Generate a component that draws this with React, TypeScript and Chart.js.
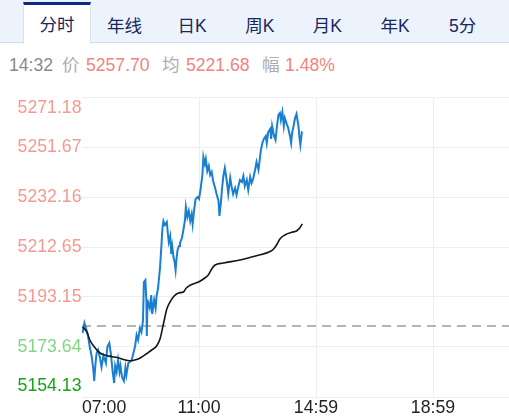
import React, { useEffect, useRef } from 'react';
import { Chart, registerables } from 'chart.js';

Chart.register(...registerables);

const TABS = ['分时', '年线', '日K', '周K', '月K', '年K', '5分'];
const INFO_TIME = '14:32';
const INFO_PRICE_LABEL = '价';
const INFO_PRICE = '5257.70';
const INFO_AVG_LABEL = '均';
const INFO_AVG = '5221.68';
const INFO_RANGE_LABEL = '幅';
const INFO_RANGE = '1.48%';

const Y_TICKS = [5154.13, 5173.64, 5193.15, 5212.65, 5232.16, 5251.67, 5271.18];
const X_TICKS = [0, 240, 480, 720, 960];
const X_LABELS = ['07:00', '11:00', '14:59', '18:59', ''];
const PREV_CLOSE = 5181.8;

// minutes since 07:00
const PRICE_MIN = [
  1, 5, 8, 12, 16, 20, 23, 25, 28, 30, 33, 37, 40, 44, 47, 49, 52, 56, 59, 63,
  66, 68, 71, 74, 77, 79, 82, 86, 89, 91, 95, 98, 102, 105, 109, 112, 115, 119, 122, 125,
  127, 130, 132, 133, 134, 136, 139, 142, 144, 148, 151, 153, 156, 160, 163, 165, 167, 170, 174, 176,
  178, 181, 183, 185, 188, 190, 192, 194, 196, 199, 201, 205, 208, 211, 213, 216, 219, 222, 225, 227,
  230, 233, 237, 240, 243, 247, 249, 252, 254, 257, 260, 263, 266, 269, 273, 276, 280, 282, 285, 287,
  290, 293, 297, 300, 304, 307, 310, 314, 317, 321, 324, 328, 331, 334, 338, 341, 345, 348, 351, 355,
  358, 362, 365, 367, 370, 373, 377, 379, 382, 386, 388, 390, 394, 397, 400, 403, 406, 408, 411, 414,
  416, 420, 423, 427, 429, 431, 434, 437, 440, 444, 446, 448, 451, 452,
];
const PRICE_VAL = [
  5179.10, 5183.00, 5181.05, 5178.32, 5173.64, 5169.74, 5165.44, 5160.37, 5167.78, 5171.30,
  5172.47, 5169.35, 5165.83, 5170.13, 5168.57, 5167.39, 5173.64, 5175.20, 5171.30, 5163.88,
  5159.59, 5166.22, 5163.88, 5168.57, 5163.88, 5166.22, 5161.93, 5160.37, 5165.44, 5162.71,
  5167.39, 5167.78, 5168.57, 5170.91, 5174.03, 5178.32, 5176.37, 5181.05, 5179.49, 5183.78,
  5199.00, 5199.78, 5191.98, 5177.93, 5188.07, 5190.80, 5188.85, 5193.93, 5186.51, 5191.98,
  5188.85, 5193.54, 5196.66, 5204.46, 5213.43, 5220.07, 5222.80, 5221.24, 5222.41, 5218.12,
  5214.61, 5216.95, 5209.92, 5213.04, 5208.36, 5206.80, 5203.68, 5208.36, 5211.48, 5213.04,
  5214.22, 5216.17, 5219.29, 5222.80, 5228.26, 5224.36, 5226.70, 5222.80, 5225.53, 5221.63,
  5227.09, 5231.38, 5232.16, 5231.38, 5234.89, 5240.75, 5247.77, 5245.04, 5246.99, 5242.31,
  5244.26, 5240.75, 5241.92, 5238.41, 5235.67, 5233.33, 5230.60, 5224.75, 5230.21, 5234.89,
  5240.36, 5243.48, 5238.41, 5233.33, 5239.58, 5236.06, 5233.33, 5235.67, 5232.94, 5236.45,
  5238.80, 5238.02, 5240.36, 5236.45, 5238.80, 5234.89, 5239.97, 5237.63, 5239.19, 5242.70,
  5245.82, 5242.70, 5247.38, 5250.50, 5253.23, 5254.79, 5255.96, 5253.23, 5257.52, 5258.69,
  5254.79, 5259.87, 5255.96, 5254.40, 5259.87, 5264.16, 5264.94, 5262.21, 5265.33, 5259.87,
  5262.99, 5260.65, 5259.08, 5255.57, 5253.23, 5257.13, 5259.87, 5262.99, 5264.55, 5259.87,
  5255.57, 5252.45, 5257.52, 5257.70,
];

const AVG_MIN = [
  1, 10, 16, 27, 37, 47, 60, 72, 85, 98, 112, 121, 133, 143, 153, 160, 167, 174, 181, 188,
  198, 208, 214, 225, 239, 252, 259, 266, 273, 290, 324, 358, 386, 393, 399, 406, 416, 430, 440, 447,
  452,
];
const AVG_VAL = [
  5181.44, 5179.49, 5176.37, 5173.25, 5171.30, 5170.52, 5169.93, 5169.54, 5168.76, 5168.29,
  5168.76, 5169.54, 5171.10, 5172.47, 5174.03, 5176.76, 5182.61, 5188.46, 5191.31, 5193.34,
  5194.71, 5195.10, 5196.66, 5198.02, 5199.00, 5200.56, 5201.73, 5204.07, 5205.63, 5206.41,
  5207.58, 5209.26, 5210.90, 5211.87, 5213.43, 5215.78, 5217.34, 5218.39, 5218.90, 5220.18,
  5221.68,
];

const FONT = '"Liberation Sans", Arial, "Noto Sans CJK SC", sans-serif';
const CJK_FONT = '"Liberation Sans", "Noto Sans CJK SC", sans-serif';

function yTickColor(v: number): string {
  if (v > PREV_CLOSE) return '#f7998f';
  if (v === Y_TICKS[0]) return '#16a516';
  return '#84d684';
}

function PriceChart() {
  const ref = useRef<HTMLCanvasElement | null>(null);
  useEffect(() => {
    const canvas = ref.current;
    if (!canvas) return;
    const chart = new Chart(canvas, {
      type: 'line',
      data: {
        datasets: [
          {
            label: 'avg',
            data: AVG_MIN.map((m, i) => ({ x: m, y: AVG_VAL[i] })),
            borderColor: '#151515',
            borderWidth: 1.6,
            pointRadius: 0,
            cubicInterpolationMode: 'monotone',
          },
          {
            label: 'price',
            data: PRICE_MIN.map((m, i) => ({ x: m, y: PRICE_VAL[i] })),
            borderColor: '#1a7fd0',
            borderWidth: 2,
            pointRadius: 0,
            tension: 0,
          },
          {
            label: 'prev',
            data: [
              { x: X_TICKS[0], y: PREV_CLOSE },
              { x: X_TICKS[X_TICKS.length - 1], y: PREV_CLOSE },
            ],
            borderColor: '#9d9d9d',
            borderWidth: 1.5,
            borderDash: [9, 6],
            pointRadius: 0,
          },
        ],
      },
      options: {
        responsive: false,
        animation: false,
        events: [],
        layout: { padding: { top: 7, right: 10, left: 0, bottom: 0 } },
        plugins: { legend: { display: false }, tooltip: { enabled: false } },
        scales: {
          x: {
            type: 'linear',
            min: X_TICKS[0],
            max: X_TICKS[X_TICKS.length - 1],
            afterBuildTicks: (s: any) => {
              s.ticks = X_TICKS.map((v) => ({ value: v }));
            },
            afterFit: (s: any) => {
              s.height = 22;
              s.paddingLeft = 0;
              s.paddingRight = 0;
            },
            border: { display: false },
            grid: {
              color: (ctx: any) => (ctx.index === 0 ? 'rgba(0,0,0,0)' : '#eeeeee'),
              lineWidth: 1,
              drawTicks: false,
            },
            ticks: {
              align: 'inner',
              padding: 0,
              maxRotation: 0,
              autoSkip: false,
              color: '#222222',
              font: { family: FONT, size: 17.7 },
              callback: (v: any) => X_LABELS[X_TICKS.indexOf(Number(v))],
            },
          },
          y: {
            type: 'linear',
            min: Y_TICKS[0],
            max: Y_TICKS[Y_TICKS.length - 1],
            afterBuildTicks: (s: any) => {
              s.ticks = Y_TICKS.map((v) => ({ value: v }));
            },
            afterFit: (s: any) => {
              s.width = 82;
              s.paddingTop = 0;
              s.paddingBottom = 0;
            },
            border: { display: false },
            grid: { color: '#eeeeee', lineWidth: 1, drawTicks: false },
            ticks: {
              padding: 0.5,
              autoSkip: false,
              font: { family: FONT, size: 17.7 },
              color: (ctx: any) => yTickColor(ctx.tick.value),
              callback: (v: any, i: number) => {
                const label = Number(v).toFixed(2);
                if (i === 0) return [label, ''];
                if (i === Y_TICKS.length - 1) return ['', label];
                return label;
              },
            },
          },
        },
      },
    } as any);
    return () => chart.destroy();
  }, []);
  return (
    <canvas
      ref={ref}
      width={560}
      height={329}
      style={{ position: 'absolute', left: 0, top: 90, display: 'block' }}
    />
  );
}

export default function App() {
  const infoItems: { text: string; left: number; color: string }[] = [
    { text: INFO_TIME, left: 9, color: '#8a8a8a' },
    { text: INFO_PRICE_LABEL, left: 62, color: '#adadad' },
    { text: INFO_PRICE, left: 86, color: '#f3847c' },
    { text: INFO_AVG_LABEL, left: 162, color: '#adadad' },
    { text: INFO_AVG, left: 186, color: '#f3847c' },
    { text: INFO_RANGE_LABEL, left: 262, color: '#adadad' },
    { text: INFO_RANGE, left: 285, color: '#f3847c' },
  ];
  return (
    <div
      style={{
        position: 'fixed',
        left: 0,
        top: 0,
        width: 509,
        height: 419,
        overflow: 'hidden',
        background: '#ffffff',
        fontFamily: CJK_FONT,
      }}
    >
      <div
        style={{
          position: 'absolute',
          left: 0,
          top: 0,
          width: 509,
          height: 42,
          background: '#edf3fd',
          borderBottom: '1px solid #d3dcec',
        }}
      />
      {TABS.map((t, i) => {
        const active = i === 0;
        const left = 23 + i * 67.6;
        return (
          <div
            key={t}
            style={{
              position: 'absolute',
              left,
              top: 2,
              width: 66,
              height: active ? 38 : 41,
              background: active ? '#ffffff' : 'transparent',
              borderTop: active ? '3px solid #0c2b84' : '3px solid transparent',
              borderLeft: active ? '1px solid #dbe2ee' : '1px solid transparent',
              borderRight: active ? '1px solid #dbe2ee' : '1px solid transparent',
              boxSizing: 'content-box',
              display: 'flex',
              alignItems: 'center',
              justifyContent: 'center',
              fontSize: 17.5,
              color: '#17285a',
              lineHeight: '20px',
              paddingTop: active ? 1 : 0,
            }}
          >
            {t}
          </div>
        );
      })}
      {infoItems.map((it, i) => (
        <span
          key={i}
          style={{
            position: 'absolute',
            left: it.left,
            top: 55,
            fontSize: 17.6,
            lineHeight: '21px',
            color: it.color,
            whiteSpace: 'nowrap',
          }}
        >
          {it.text}
        </span>
      ))}
      <PriceChart />
    </div>
  );
}
